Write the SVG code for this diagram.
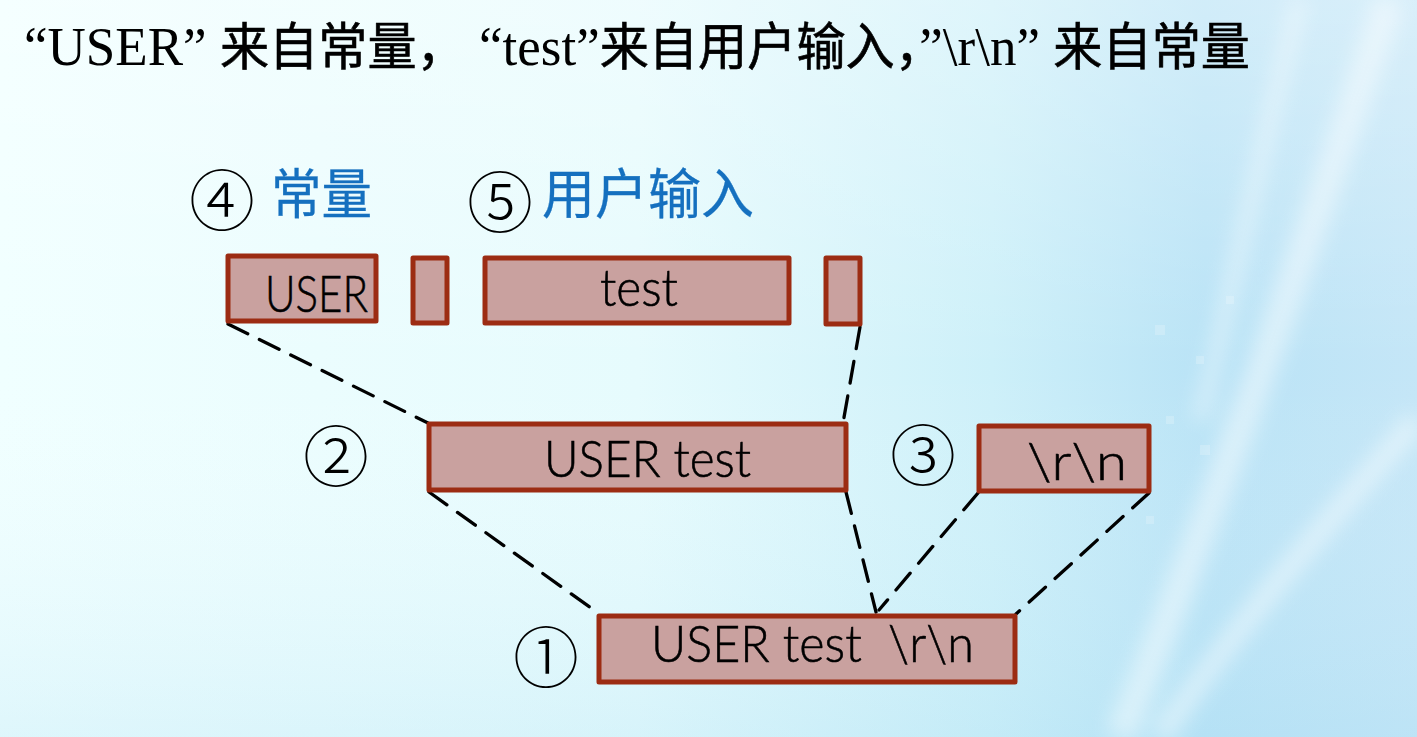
<svg xmlns="http://www.w3.org/2000/svg" width="1417" height="737" viewBox="0 0 1417 737">
<defs>
<linearGradient id="bg" x1="0" y1="0" x2="1" y2="0">
<stop offset="0" stop-color="#f0ffff"/>
<stop offset="0.45" stop-color="#e6fbfd"/>
<stop offset="0.7" stop-color="#cdf0f9"/>
<stop offset="0.85" stop-color="#b9e3f6"/>
<stop offset="1" stop-color="#c4e6f7"/>
</linearGradient>
<linearGradient id="bgv" x1="0" y1="0" x2="0" y2="1">
<stop offset="0" stop-color="#ffffff" stop-opacity="0.35"/>
<stop offset="0.5" stop-color="#ffffff" stop-opacity="0"/>
<stop offset="1" stop-color="#a8dcf2" stop-opacity="0.25"/>
</linearGradient>
<filter id="blur" x="-20%" y="-20%" width="140%" height="140%"><feGaussianBlur stdDeviation="10"/></filter>
<style>
.box{fill:#c9a19f;stroke:#9c2c13;stroke-width:5;stroke-linejoin:round}
.lbl{font-family:Lato,"Noto Sans",sans-serif;font-weight:300;font-size:52px;fill:#000;stroke:#000;stroke-width:0.6;white-space:pre}
.num{font-family:"Noto Sans CJK SC",sans-serif;font-weight:300;font-size:66px;fill:#000;text-anchor:middle;dominant-baseline:central}
.blue{font-family:"Noto Sans CJK SC",sans-serif;font-size:54px;fill:#1570bf;stroke:#1570bf;stroke-width:0.3}
.dash{fill:none;stroke:#000;stroke-width:3.3;stroke-dasharray:22 13;stroke-linecap:round}
.ttl{font-family:"Liberation Serif","Noto Sans CJK SC",serif;font-size:55px;fill:#000;white-space:pre}
.cjk{font-family:"Noto Sans CJK SC",sans-serif;font-size:51px;stroke:#000;stroke-width:0.6}
</style>
</defs>
<rect width="1417" height="737" fill="url(#bg)"/>
<rect width="1417" height="737" fill="url(#bgv)"/>
<g filter="url(#blur)" fill="none" stroke="#ffffff" opacity="0.45">
<path d="M1390 0 C1320 200 1250 420 1120 737" stroke-width="30"/>
<path d="M1417 420 C1330 520 1240 620 1160 737" stroke-width="22"/>
<path d="M1300 0 C1260 150 1230 300 1200 420" stroke-width="14"/>
</g>
<g opacity="0.2" fill="#ffffff">
<rect x="1155" y="325" width="10" height="10"/><rect x="1196" y="356" width="8" height="8"/><rect x="1226" y="296" width="8" height="8"/>
<rect x="1166" y="416" width="8" height="8"/><rect x="1200" y="445" width="10" height="10"/><rect x="1146" y="516" width="8" height="8"/>
</g>

<g id="title">
<text class="ttl" x="24" y="65" textLength="1226" lengthAdjust="spacingAndGlyphs">“USER” <tspan class="cjk">来自常量，</tspan> “test”<tspan class="cjk">来自用户输入，</tspan>”\r\n” <tspan class="cjk">来自常量</tspan></text>
</g>

<g id="legend-const">
<text class="num" x="222" y="196">④</text>
<text class="blue" x="271" y="214" textLength="101" lengthAdjust="spacingAndGlyphs">常量</text>
</g>
<g id="legend-input">
<text class="num" x="500" y="198">⑤</text>
<text class="blue" x="542" y="214" textLength="212" lengthAdjust="spacingAndGlyphs">用户输入</text>
</g>

<g id="connectors">
<line class="dash" x1="228" y1="324" x2="428" y2="423"/>
<line class="dash" x1="860" y1="327" x2="843" y2="423"/>
<line class="dash" x1="429" y1="492" x2="598" y2="613"/>
<line class="dash" x1="846" y1="492" x2="876" y2="612"/>
<line class="dash" x1="978" y1="493" x2="879" y2="610"/>
<line class="dash" x1="1149" y1="493" x2="1016" y2="614"/>
</g>

<g id="box-user">
<rect class="box" x="228" y="256" width="148" height="65"/>
<text class="lbl" x="265" y="312" textLength="103" lengthAdjust="spacingAndGlyphs">USER</text>
</g>
<g id="box-sep1">
<rect class="box" x="413" y="258" width="34" height="65"/>
</g>
<g id="box-test">
<rect class="box" x="485" y="258" width="304" height="65"/>
<text class="lbl" x="600" y="306" textLength="78" lengthAdjust="spacingAndGlyphs">test</text>
</g>
<g id="box-sep2">
<rect class="box" x="826" y="258" width="34" height="66"/>
</g>
<g id="node2">
<text class="num" x="336" y="452">②</text>
<rect class="box" x="429" y="424" width="417" height="66"/>
<text class="lbl" x="544" y="477" textLength="207" lengthAdjust="spacingAndGlyphs">USER test</text>
</g>
<g id="node3">
<text class="num" x="923" y="451">③</text>
<rect class="box" x="979" y="426" width="170" height="65"/>
<text class="lbl" x="1027" y="480" textLength="100" lengthAdjust="spacingAndGlyphs">\r\n</text>
</g>
<g id="node1">
<text class="num" x="546" y="653">①</text>
<rect class="box" x="599" y="616" width="416" height="66"/>
<text class="lbl" x="651" y="662" textLength="323" lengthAdjust="spacingAndGlyphs">USER test  \r\n</text>
</g>
</svg>
